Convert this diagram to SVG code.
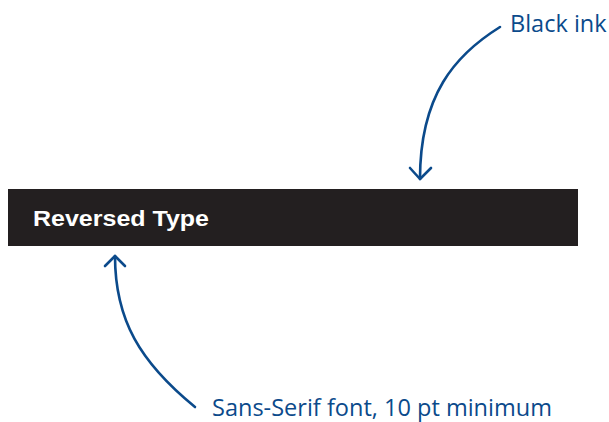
<svg xmlns="http://www.w3.org/2000/svg" width="609" height="422" viewBox="0 0 609 422">
<style>
.lbl{font-family:"Open Sans","Liberation Sans",sans-serif;font-size:23.5px;fill:#0b4a8b}
.conn{fill:none;stroke:#0b4a8b;stroke-width:2.6;stroke-linecap:round;stroke-linejoin:round}
.bar{fill:#231f20}
.rev{font-family:"Liberation Sans","Open Sans",sans-serif;font-weight:bold;font-size:22px;fill:#ffffff}
</style>
<rect width="609" height="422" fill="#ffffff"/>
<g id="bar">
<rect class="bar" x="8" y="189" width="570" height="57"/>
<text class="rev" x="33" y="226" textLength="176" lengthAdjust="spacingAndGlyphs">Reversed Type</text>
</g>
<g id="label-black-ink">
<text class="lbl" x="510" y="32">Black ink</text>
</g>
<g id="label-sans-serif">
<text class="lbl" x="212" y="416" textLength="340" lengthAdjust="spacingAndGlyphs">Sans-Serif font, 10 pt minimum</text>
</g>
<g id="connectors">
<path class="conn" d="M500,27 C455,55 420,95 420,179"/>
<path class="conn" d="M410,168 L420,179 L431,168"/>
<path class="conn" d="M195,407 C140,362 115,320 115,256"/>
<path class="conn" d="M105,266 L115,256 L125,266"/>
</g>
</svg>
